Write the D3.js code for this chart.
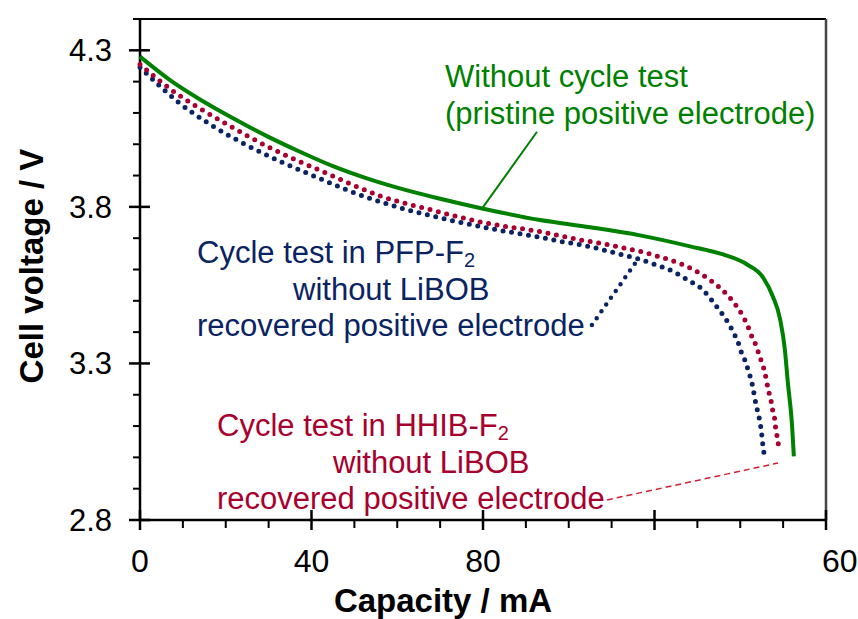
<!DOCTYPE html>
<html>
<head>
<meta charset="utf-8">
<script src="https://cdn.jsdelivr.net/npm/d3@7"></script>
<style>
  html, body { margin: 0; padding: 0; background: #fff; }
  svg { display: block; font-family: "Liberation Sans", Arial, sans-serif; }
</style>
</head>
<body>
<svg id="chart" width="858" height="619"></svg>
<script>
// Discharge curves: capacity (mAh) vs cell voltage (V)
const pristineCap = [0, 7, 14, 21.7, 29.6, 37.3, 45, 52.9, 60.6, 70, 79.8, 93.3, 105, 116.6, 128.3, 136, 141.6, 145.3, 147.6, 149.3, 150.4, 151.1, 152.1, 152.5];
const pristineV   = [4.28, 4.205, 4.143, 4.083, 4.026, 3.976, 3.930, 3.891, 3.859, 3.826, 3.795, 3.758, 3.735, 3.709, 3.674, 3.648, 3.616, 3.575, 3.514, 3.441, 3.345, 3.239, 3.099, 3.003];

const hhibCap = [0, 7.5, 19.1, 31, 43.6, 56.2, 68, 80, 94, 98.7, 103.3, 107.8, 112, 116.6, 120.8, 125.2, 129.4, 133.4, 136.9, 138.3, 139.7, 140.9, 141.8, 142.7, 143.7, 144.4, 145.1, 145.8, 146.2, 146.7, 147.2, 147.6, 148.1, 148.3, 148.8, 149];
const hhibV   = [4.255, 4.172, 4.073, 3.984, 3.907, 3.834, 3.79, 3.75, 3.719, 3.706, 3.693, 3.683, 3.671, 3.658, 3.642, 3.623, 3.597, 3.562, 3.52, 3.498, 3.472, 3.444, 3.418, 3.386, 3.357, 3.328, 3.3, 3.268, 3.239, 3.207, 3.179, 3.147, 3.115, 3.086, 3.054, 3.022];

const pfpCap = [0, 4.7, 8.6, 16.3, 24.5, 32.7, 40.8, 49, 59.9, 71.6, 82, 93.3, 98, 102.4, 106.8, 111.3, 115.9, 120.1, 124.3, 128.3, 130.6, 132, 133.4, 134.8, 136.2, 137.4, 138.5, 139.5, 140.2, 141.1, 141.8, 142.5, 143, 143.4, 143.9, 144.4, 144.8, 145.1, 145.3, 145.8];
const pfpV   = [4.246, 4.185, 4.138, 4.064, 4.0, 3.945, 3.897, 3.85, 3.80, 3.76, 3.73, 3.703, 3.69, 3.68, 3.667, 3.651, 3.635, 3.616, 3.594, 3.562, 3.543, 3.524, 3.501, 3.476, 3.45, 3.425, 3.396, 3.367, 3.338, 3.31, 3.281, 3.249, 3.22, 3.188, 3.156, 3.127, 3.096, 3.064, 3.035, 3.003];

// Axis ticks
const xTickValues = [0, 40, 80, 120, 160];
const xTickLabels = ["0", "40", "80", "", "60"];
const yTickValues = [2.8, 3.3, 3.8, 4.3];
const yTickLabels = ["2.8", "3.3", "3.8", "4.3"];

const GREEN = "#008000", NAVY = "#0a2363", CRIMSON = "#a8002e";

const svg = d3.select("#chart");
const x = d3.scaleLinear().domain([0, 160]).range([140, 826]);
const y = d3.scaleLinear().domain([2.8, 4.4]).range([520, 19]);

// Frame (top and right)
svg.append("line").attr("x1", x(0)).attr("x2", x(160)).attr("y1", y(4.4)).attr("y2", y(4.4))
  .attr("stroke", "#000").attr("stroke-width", 2);
svg.append("line").attr("x1", x(160)).attr("x2", x(160)).attr("y1", y(4.4)).attr("y2", y(2.8))
  .attr("stroke", "#444").attr("stroke-width", 2.5);

// Y axis: major ticks cross the axis, minor ticks point outward
const yAxis = svg.append("g");
yAxis.append("line").attr("x1", x(0)).attr("x2", x(0)).attr("y1", y(4.4)).attr("y2", y(2.8))
  .attr("stroke", "#000").attr("stroke-width", 2.5);
const yMinor = d3.range(28, 45).map(d => d / 10).filter(v => !yTickValues.some(t => Math.abs(t - v) < 1e-6));
yAxis.selectAll("line.minor").data(yMinor).join("line").attr("class", "minor")
  .attr("x1", x(0) - 7).attr("x2", x(0)).attr("y1", d => y(d)).attr("y2", d => y(d))
  .attr("stroke", "#000").attr("stroke-width", 2);
yAxis.selectAll("line.major").data(yTickValues).join("line").attr("class", "major")
  .attr("x1", x(0) - 11).attr("x2", x(0) + 10).attr("y1", d => y(d)).attr("y2", d => y(d))
  .attr("stroke", "#000").attr("stroke-width", 2.5);
yAxis.selectAll("text").data(yTickValues).join("text")
  .attr("x", 112).attr("y", d => y(d)).attr("dy", "0.35em")
  .attr("text-anchor", "end").attr("font-size", 31).attr("fill", "#000")
  .text((d, i) => yTickLabels[i]);

// X axis
const xAxis = svg.append("g");
xAxis.append("line").attr("x1", x(0)).attr("x2", x(160)).attr("y1", y(2.8)).attr("y2", y(2.8))
  .attr("stroke", "#000").attr("stroke-width", 2.5);
const xMinor = d3.range(0, 161, 10).filter(v => !xTickValues.includes(v));
xAxis.selectAll("line.minor").data(xMinor).join("line").attr("class", "minor")
  .attr("x1", d => x(d)).attr("x2", d => x(d)).attr("y1", y(2.8)).attr("y2", y(2.8) + 8)
  .attr("stroke", "#000").attr("stroke-width", 2);
xAxis.selectAll("line.major").data(xTickValues).join("line").attr("class", "major")
  .attr("x1", d => x(d)).attr("x2", d => x(d)).attr("y1", y(2.8) - 10).attr("y2", y(2.8) + 10)
  .attr("stroke", "#000").attr("stroke-width", 2.5);
xAxis.selectAll("text").data(xTickValues).join("text")
  .attr("x", d => x(d)).attr("y", 572)
  .attr("text-anchor", (d, i) => i === xTickValues.length - 1 ? "start" : "middle")
  .attr("dx", (d, i) => i === xTickValues.length - 1 ? -4 : 0)
  .attr("font-size", 32).attr("fill", "#000")
  .text((d, i) => xTickLabels[i]);

// Axis titles
svg.append("text").attr("x", 443).attr("y", 612).attr("text-anchor", "middle")
  .attr("font-size", 33).attr("font-weight", "bold").text("Capacity / mA");
svg.append("text").attr("transform", "translate(43,266) rotate(-90)").attr("text-anchor", "middle")
  .attr("font-size", 33).attr("font-weight", "bold").text("Cell voltage / V");

// Curves
const line = d3.line().x(d => x(d[0])).y(d => y(d[1])).curve(d3.curveMonotoneX);
const zip = (a, b) => a.map((v, i) => [v, b[i]]);

svg.append("path").datum(zip(pfpCap, pfpV)).attr("d", line)
  .attr("fill", "none").attr("stroke", NAVY).attr("stroke-width", 5)
  .attr("stroke-linecap", "round").attr("stroke-dasharray", "0 8.6");
svg.append("path").datum(zip(hhibCap, hhibV)).attr("d", line)
  .attr("fill", "none").attr("stroke", CRIMSON).attr("stroke-width", 5)
  .attr("stroke-linecap", "round").attr("stroke-dasharray", "0 8.6");
svg.append("path").datum(zip(pristineCap, pristineV)).attr("d", line)
  .attr("fill", "none").attr("stroke", GREEN).attr("stroke-width", 4);

// Leader lines from labels to curves
svg.append("line").attr("x1", x(92.6)).attr("y1", y(4.04)).attr("x2", x(79.8)).attr("y2", y(3.795))
  .attr("stroke", GREEN).attr("stroke-width", 2);
svg.append("line").attr("x1", x(105.4)).attr("y1", y(3.423)).attr("x2", x(115.7)).attr("y2", y(3.624))
  .attr("stroke", NAVY).attr("stroke-width", 4.5).attr("stroke-linecap", "round").attr("stroke-dasharray", "0 8.3");
svg.append("line").attr("x1", x(108.9)).attr("y1", y(2.864)).attr("x2", x(148.8)).attr("y2", y(2.982))
  .attr("stroke", "#d02030").attr("stroke-width", 1.5).attr("stroke-dasharray", "6 4");

// Annotation labels
function label(lines, color, x0, y0, gap) {
  const t = svg.append("text").attr("font-size", 31).attr("fill", color);
  lines.forEach((ln, i) => {
    const tx = t.append("tspan").attr("x", x0 + ln.indent).attr("y", y0 + i * gap);
    tx.append("tspan").text(ln.text);
    if (ln.sub) tx.append("tspan").attr("font-size", 20).attr("dy", 4).text(ln.sub);
  });
}
label([{ text: "Without cycle test", indent: 0 },
       { text: "(pristine positive electrode)", indent: 0 }], GREEN, 445, 87, 36.5);
label([{ text: "Cycle test in PFP-F", sub: "2", indent: 0 },
       { text: "without LiBOB", indent: 96 },
       { text: "recovered positive electrode", indent: 0 }], NAVY, 197, 263, 36.5);
label([{ text: "Cycle test in HHIB-F", sub: "2", indent: 0 },
       { text: "without LiBOB", indent: 116 },
       { text: "recovered positive electrode", indent: 0 }], CRIMSON, 217, 436, 36.5);
</script>
</body>
</html>
